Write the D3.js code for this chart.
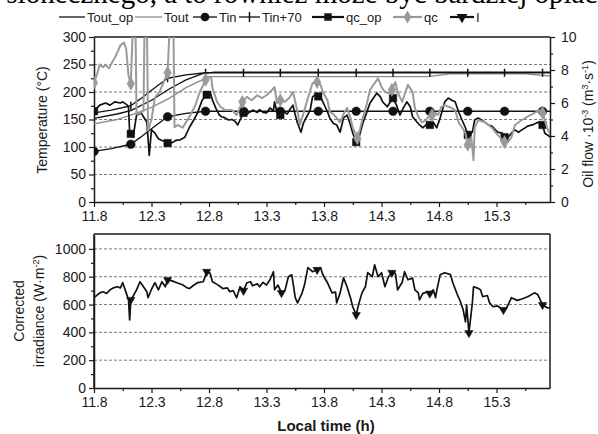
<!DOCTYPE html>
<html><head><meta charset="utf-8">
<script src="https://cdn.jsdelivr.net/npm/d3@7"></script>
<style>
html,body{margin:0;padding:0;background:#fff;}
svg{display:block;font-family:"Liberation Sans",Arial,sans-serif;}
</style></head>
<body><svg id="c" width="598" height="434"></svg>
<script>
// ---------- DATA ----------
const markerTimes = [11.8,12.12,12.44,12.77,13.1,13.42,13.75,14.08,14.4,14.72,15.05,15.37,15.7];
const xTicks = [11.8,12.3,12.8,13.3,13.8,14.3,14.8,15.3];
const xMinorTicks = [12.05,12.55,13.05,13.55,14.05,14.55,15.05,15.55];
const tempTicks = [0,50,100,150,200,250,300];
const flowTicks = [0,2,4,6,8,10];
const irrTicks = [0,200,400,600,800,1000];

const toutOp = [[11.8,152],[12.0,160],[12.12,166],[12.3,185],[12.45,205],[12.6,222],[12.75,234],[12.85,236],[15.77,236]];
const tout = [[11.8,142],[12.0,150],[12.12,158],[12.3,172],[12.45,188],[12.6,208],[12.8,228],[14.7,228],[14.9,233],[15.55,233],[15.77,229]];
const tin = [[11.8,92],[11.95,97],[12.12,105],[12.2,117],[12.3,133],[12.44,155],[12.6,161],[12.77,165],[13.1,165],[13.42,165],[13.75,165],[14.08,165],[14.4,165],[14.72,165],[15.05,165],[15.37,165],[15.7,165],[15.77,165]];
const tinPlus70 = [[11.8,162],[11.95,167],[12.12,175],[12.2,187],[12.3,203],[12.44,225],[12.6,231],[12.77,235],[13.1,235],[13.42,235],[13.75,235],[14.08,235],[14.4,235],[14.72,235],[15.05,235],[15.37,235],[15.7,235],[15.77,235]];

// oil flow, 10^-3 m3/s
const qcOp = [[11.80,5.5],[11.85,5.87],[11.90,6.0],[11.94,5.87],[11.98,6.07],[12.03,6.0],[12.05,6.07],[12.09,5.87],[12.10,5.73],[12.11,4.23],[12.12,4.13],[12.14,3.93],[12.17,5.27],[12.21,5.4],[12.23,5.17],[12.26,4.83],[12.28,2.83],[12.30,4.37],[12.33,4.17],[12.36,3.83],[12.39,3.73],[12.42,3.67],[12.44,3.57],[12.48,3.6],[12.51,3.73],[12.55,3.77],[12.59,3.93],[12.63,4.53],[12.67,5.0],[12.70,5.4],[12.74,6.17],[12.78,6.5],[12.81,6.67],[12.83,6.17],[12.86,5.67],[12.89,5.27],[12.91,5.17],[12.94,5.1],[12.97,4.97],[13.00,5.0],[13.03,4.87],[13.05,4.67],[13.07,4.97],[13.10,5.4],[13.13,5.33],[13.16,5.47],[13.18,5.57],[13.22,5.43],[13.24,5.6],[13.27,5.43],[13.30,5.4],[13.33,5.7],[13.36,5.53],[13.37,6.07],[13.39,5.47],[13.42,5.27],[13.44,5.5],[13.48,5.33],[13.50,5.57],[13.53,5.87],[13.55,5.27],[13.57,4.77],[13.60,4.23],[13.62,4.77],[13.65,5.17],[13.68,5.57],[13.70,6.37],[13.72,6.47],[13.75,6.4],[13.77,6.37],[13.79,6.07],[13.83,5.47],[13.85,5.1],[13.88,4.77],[13.91,4.67],[13.94,4.23],[13.97,5.1],[14.00,5.27],[14.03,4.67],[14.05,4.17],[14.08,3.63],[14.11,4.07],[14.14,4.83],[14.17,5.4],[14.20,6.0],[14.23,6.3],[14.26,6.6],[14.29,6.37],[14.31,6.07],[14.35,5.77],[14.37,6.0],[14.40,6.3],[14.43,5.87],[14.46,5.27],[14.49,5.7],[14.52,6.07],[14.55,5.77],[14.57,5.17],[14.61,4.83],[14.63,4.67],[14.66,4.5],[14.70,4.77],[14.72,4.67],[14.75,4.83],[14.78,4.5],[14.81,5.1],[14.83,5.57],[14.85,6.07],[14.88,6.3],[14.91,6.17],[14.94,6.07],[14.97,5.47],[15.00,4.97],[15.03,4.5],[15.05,4.07],[15.09,4.23],[15.11,4.97],[15.14,5.1],[15.17,4.97],[15.20,4.83],[15.23,4.67],[15.26,4.6],[15.29,4.37],[15.31,4.23],[15.35,4.17],[15.37,3.93],[15.40,3.93],[15.43,4.17],[15.46,4.37],[15.49,4.23],[15.52,4.37],[15.55,4.5],[15.57,4.6],[15.61,4.67],[15.63,4.73],[15.66,4.83],[15.70,4.67],[15.72,4.17],[15.77,3.93]];

const qc = [[11.80,7.23],[11.83,7.83],[11.85,8.33],[11.88,8.17],[11.90,8.33],[11.93,8.1],[11.96,8.5],[11.98,8.73],[12.01,9.17],[12.03,9.5],[12.06,9.67],[12.08,9.27],[12.10,7.67],[12.12,7.17],[12.14,11],[12.16,11],[12.17,5.33],[12.23,5.5],[12.24,11],[12.26,11],[12.27,4.33],[12.30,5.0],[12.33,6.33],[12.37,6.67],[12.42,7.5],[12.44,7.83],[12.46,11],[12.49,11],[12.50,4.53],[12.53,4.67],[12.57,4.5],[12.60,4.83],[12.63,5.17],[12.68,5.83],[12.72,6.67],[12.77,7.4],[12.79,7.6],[12.82,7.5],[12.83,6.9],[12.87,6.07],[12.90,5.77],[12.94,5.57],[13.00,5.57],[13.04,5.27],[13.09,6.07],[13.13,6.37],[13.17,6.17],[13.22,6.47],[13.26,6.3],[13.30,6.47],[13.35,6.8],[13.37,6.97],[13.39,6.0],[13.42,6.17],[13.46,6.07],[13.50,6.33],[13.53,6.67],[13.57,5.47],[13.59,4.67],[13.62,5.33],[13.66,6.3],[13.70,7.2],[13.74,7.27],[13.77,7.1],[13.79,6.67],[13.83,6.17],[13.85,5.47],[13.88,5.33],[13.91,5.1],[13.94,4.83],[13.97,5.33],[14.00,5.7],[14.03,5.1],[14.05,4.5],[14.09,3.87],[14.11,4.33],[14.14,5.17],[14.17,5.87],[14.20,6.8],[14.23,7.1],[14.27,7.5],[14.30,6.97],[14.33,6.67],[14.36,6.6],[14.39,6.8],[14.42,7.27],[14.44,6.67],[14.48,6.07],[14.50,6.5],[14.53,7.1],[14.57,6.67],[14.59,5.7],[14.62,5.17],[14.65,4.83],[14.68,4.93],[14.70,5.1],[14.74,5.27],[14.77,5.4],[14.79,5.27],[14.82,5.77],[14.85,5.87],[14.90,5.73],[14.94,5.57],[14.97,4.83],[15.00,4.53],[15.03,4.17],[15.05,3.47],[15.08,3.93],[15.10,2.53],[15.11,4.5],[15.14,4.97],[15.20,4.83],[15.26,4.5],[15.31,4.07],[15.37,3.63],[15.40,3.63],[15.43,3.93],[15.46,4.67],[15.52,4.97],[15.57,5.17],[15.63,5.4],[15.68,5.57],[15.70,5.4],[15.74,4.5],[15.77,4.07]];

// corrected irradiance, W/m2
const irr = [[11.80,650],[11.83,670],[11.85,684],[11.88,692],[11.91,680],[11.94,706],[11.97,720],[12.00,728],[12.03,720],[12.05,757],[12.08,684],[12.10,634],[12.11,490],[12.12,634],[12.14,660],[12.17,706],[12.20,764],[12.23,728],[12.26,692],[12.27,649],[12.30,710],[12.33,757],[12.36,706],[12.39,764],[12.42,728],[12.44,778],[12.48,770],[12.52,757],[12.57,742],[12.61,720],[12.63,715],[12.66,735],[12.70,757],[12.75,764],[12.78,836],[12.81,825],[12.83,764],[12.87,745],[12.90,728],[12.92,715],[12.96,720],[12.98,692],[13.01,700],[13.04,649],[13.07,728],[13.10,700],[13.13,757],[13.16,764],[13.18,735],[13.22,750],[13.24,728],[13.27,760],[13.30,740],[13.33,778],[13.36,836],[13.37,706],[13.40,740],[13.43,684],[13.46,700],[13.49,800],[13.52,814],[13.55,649],[13.57,612],[13.61,684],[13.63,740],[13.66,865],[13.70,836],[13.74,850],[13.77,865],[13.79,814],[13.83,757],[13.87,684],[13.90,690],[13.91,612],[13.94,684],[13.97,793],[14.00,728],[14.03,649],[14.05,584],[14.08,526],[14.10,598],[14.13,684],[14.16,728],[14.18,829],[14.22,800],[14.24,886],[14.27,800],[14.30,829],[14.33,728],[14.36,800],[14.39,829],[14.42,825],[14.44,706],[14.48,760],[14.50,836],[14.53,778],[14.57,790],[14.59,706],[14.62,684],[14.63,634],[14.66,680],[14.70,690],[14.72,680],[14.75,706],[14.77,649],[14.78,700],[14.81,814],[14.85,829],[14.90,815],[14.92,757],[14.96,670],[14.98,634],[15.01,562],[15.03,476],[15.04,598],[15.06,396],[15.09,612],[15.10,728],[15.13,720],[15.16,706],[15.18,656],[15.22,665],[15.24,612],[15.27,584],[15.31,590],[15.36,562],[15.39,580],[15.43,649],[15.48,630],[15.52,640],[15.57,656],[15.59,665],[15.63,684],[15.66,670],[15.70,598],[15.74,577],[15.77,575]];

// ---------- CHART ----------
const svg = d3.select("#c");
const FONT = "'Liberation Sans', Arial, sans-serif";
const INK = "#1a1a1a";

// clipped page text above the figure
svg.append("text").attr("x",-9).attr("y",3)
  .attr("font-family","'Liberation Serif','Times New Roman',serif").attr("font-size",29).attr("fill","#000")
  .text("i słonecznego, a to również może być bardziej opłac");

const x = d3.scaleLinear().domain([11.8, 15.765]).range([94, 550]);
const yT = d3.scaleLinear().domain([0,300]).range([202,37]);
const yF = d3.scaleLinear().domain([0,10]).range([202,37]);
const yI = d3.scaleLinear().domain([0,1100]).range([388,235]);

const defs = svg.append("defs");
defs.append("clipPath").attr("id","clipTop").append("rect").attr("x",94).attr("y",37).attr("width",456).attr("height",165);
defs.append("clipPath").attr("id","clipBot").append("rect").attr("x",94).attr("y",234).attr("width",456).attr("height",154);

function grid(yScale, vals){
  svg.append("g").selectAll("line").data(vals).join("line")
    .attr("x1",x.range()[0]).attr("x2",x.range()[1])
    .attr("y1",d=>yScale(d)).attr("y2",d=>yScale(d))
    .attr("stroke","#7a7a7a").attr("stroke-width",1).attr("stroke-dasharray","3,2");
}
grid(yT,[50,100,150,200,250]);
grid(yI,[200,400,600,800,1000]);

function styleAxis(g, fs){
  g.selectAll("path").attr("stroke",INK).attr("stroke-width",1.5);
  g.selectAll("line").attr("stroke",INK).attr("stroke-width",1.2);
  g.selectAll("text").attr("font-family",FONT).attr("font-size",fs||14).attr("fill",INK);
}
function minor(axisFn, scale, vals, transform){
  const g = svg.append("g").attr("transform",transform)
    .call(axisFn(scale).tickValues(vals).tickSize(3).tickSizeOuter(0).tickFormat(""));
  g.select("path").remove();
  g.selectAll("line").attr("stroke",INK).attr("stroke-width",1.2);
}
const fmtX = d3.format(".1f");
const fmtInt = d3.format("d");

let g;
g = svg.append("g").attr("transform","translate(0,202)").call(d3.axisBottom(x).tickValues(xTicks).tickFormat(fmtX).tickSize(5).tickSizeOuter(0).tickPadding(4));
styleAxis(g);
minor(d3.axisBottom, x, xMinorTicks, "translate(0,202)");
g = svg.append("g").attr("transform","translate(94,0)").call(d3.axisLeft(yT).tickValues(tempTicks).tickFormat(fmtInt).tickSize(5).tickSizeOuter(0).tickPadding(3));
styleAxis(g);
minor(d3.axisLeft, yT, [25,75,125,175,225,275], "translate(94,0)");
g = svg.append("g").attr("transform","translate(550,0)").call(d3.axisRight(yF).tickValues(flowTicks).tickFormat(fmtInt).tickSize(5).tickSizeOuter(0).tickPadding(6));
styleAxis(g);
minor(d3.axisRight, yF, [1,3,5,7,9], "translate(550,0)");
svg.append("line").attr("x1",94).attr("x2",550).attr("y1",37).attr("y2",37).attr("stroke",INK).attr("stroke-width",1.5);

g = svg.append("g").attr("transform","translate(0,388)").call(d3.axisBottom(x).tickValues(xTicks).tickFormat(fmtX).tickSize(5).tickSizeOuter(0).tickPadding(4));
styleAxis(g);
minor(d3.axisBottom, x, xMinorTicks, "translate(0,388)");
g = svg.append("g").attr("transform","translate(94,0)").call(d3.axisLeft(yI).tickValues(irrTicks).tickFormat(fmtInt).tickSize(5).tickSizeOuter(0).tickPadding(3));
styleAxis(g);
minor(d3.axisLeft, yI, [100,300,500,700,900], "translate(94,0)");
svg.append("line").attr("x1",94).attr("x2",550).attr("y1",234).attr("y2",234).attr("stroke",INK).attr("stroke-width",1.5);
svg.append("line").attr("x1",550).attr("x2",550).attr("y1",234).attr("y2",388).attr("stroke",INK).attr("stroke-width",1.5);
svg.append("line").attr("x1",94).attr("x2",94).attr("y1",234).attr("y2",388).attr("stroke",INK).attr("stroke-width",1.5);

svg.append("text").attr("transform","translate(47,120) rotate(-90)").attr("text-anchor","middle")
  .attr("font-family",FONT).attr("font-size",14).attr("fill",INK).text("Temperature (°C)");
const rt = svg.append("text").attr("transform","translate(593,124) rotate(-90)").attr("text-anchor","middle")
  .attr("font-family",FONT).attr("font-size",14).attr("fill",INK);
rt.append("tspan").text("Oil flow ·10");
rt.append("tspan").attr("dy",-5).attr("font-size",9).text("-3");
rt.append("tspan").attr("dy",5).text(" (m");
rt.append("tspan").attr("dy",-5).attr("font-size",9).text("3");
rt.append("tspan").attr("dy",5).text("·s");
rt.append("tspan").attr("dy",-5).attr("font-size",9).text("-1");
rt.append("tspan").attr("dy",5).text(")");

svg.append("text").attr("transform","translate(24,311) rotate(-90)").attr("text-anchor","middle")
  .attr("font-family",FONT).attr("font-size",14).attr("fill",INK).text("Corrected");
const itx = svg.append("text").attr("transform","translate(44,311) rotate(-90)").attr("text-anchor","middle")
  .attr("font-family",FONT).attr("font-size",14).attr("fill",INK);
itx.append("tspan").text("irradiance (W·m");
itx.append("tspan").attr("dy",-5).attr("font-size",9).text("-2");
itx.append("tspan").attr("dy",5).text(")");

svg.append("text").attr("x",326).attr("y",431).attr("text-anchor","middle")
  .attr("font-family",FONT).attr("font-size",15).attr("font-weight","bold").attr("fill",INK).text("Local time (h)");

const topLayer = svg.append("g").attr("clip-path","url(#clipTop)");
const botLayer = svg.append("g").attr("clip-path","url(#clipBot)");
const lineT = d3.line().x(d=>x(d[0])).y(d=>yT(d[1]));
const lineF = d3.line().x(d=>x(d[0])).y(d=>yF(d[1]));
const lineI = d3.line().x(d=>x(d[0])).y(d=>yI(d[1]));

function nearest(data, t){
  let best=data[0], bd=Infinity;
  for(const d of data){ const dd=Math.abs(d[0]-t); if(dd<bd){bd=dd;best=d;} }
  return best;
}
function markersOf(data, times){ return times.map(t=>nearest(data,t)); }

const sym = {
  circle: d3.symbol().type(d3.symbolCircle).size(60),
  square: d3.symbol().type(d3.symbolSquare).size(56),
  diamond: d3.symbol().type(d3.symbolDiamond).size(50),
  tri: d3.symbol().type(d3.symbolTriangle).size(30)
};

function drawSeries(layer, data, lineFn, yS, color, width, symKind, times, rot){
  layer.append("path").datum(data).attr("d",lineFn).attr("fill","none")
    .attr("stroke",color).attr("stroke-width",width).attr("stroke-linejoin","round");
  if(!symKind) return;
  layer.append("g").selectAll("path").data(markersOf(data,times)).join("path")
    .attr("transform",d=>`translate(${x(d[0])},${yS(d[1])})${rot?" rotate(180)":""}`)
    .attr("d", symKind==="plus" ? "M0,-4V4" : sym[symKind]())
    .attr("fill", symKind==="plus" ? "none" : color)
    .attr("stroke", color).attr("stroke-width", symKind==="plus"?1.5:0.5);
}

drawSeries(topLayer, toutOp, lineT, yT, "#111", 1.3, null);
drawSeries(topLayer, tout, lineT, yT, "#8a8a8a", 1.3, null);
drawSeries(topLayer, tin, lineT, yT, "#111", 1.3, "circle", markerTimes);
drawSeries(topLayer, tinPlus70, lineT, yT, "#111", 1.3, "plus", markerTimes);
drawSeries(topLayer, qcOp, lineF, yF, "#111", 1.7, "square", markerTimes);
drawSeries(topLayer, qc, lineF, yF, "#9a9a9a", 2.0, "diamond", markerTimes);
drawSeries(botLayer, irr, lineI, yI, "#111", 1.7, "tri", markerTimes.slice(1), true);

const legend = [
  {label:"Tout_op", color:"#111", w:1.3, sym:null, x1:59, x2:85},
  {label:"Tout", color:"#8a8a8a", w:1.3, sym:null, x1:135, x2:162},
  {label:"Tin", color:"#111", w:1.3, sym:"circle", x1:193, x2:217},
  {label:"Tin+70", color:"#111", w:1.3, sym:"cross", x1:239, x2:260},
  {label:"qc_op", color:"#111", w:2.2, sym:"square", x1:312, x2:344},
  {label:"qc", color:"#9a9a9a", w:2.2, sym:"diamond", x1:393, x2:422},
  {label:"I", color:"#111", w:2.2, sym:"tri", x1:450, x2:474}
];
const LY = 17;
const lg = svg.append("g");
legend.forEach(it=>{
  lg.append("line").attr("x1",it.x1).attr("x2",it.x2).attr("y1",LY).attr("y2",LY)
    .attr("stroke",it.color).attr("stroke-width",it.w);
  if(it.sym){
    const cx=(it.x1+it.x2)/2;
    if(it.sym==="cross"){
      lg.append("line").attr("x1",cx).attr("x2",cx).attr("y1",LY-5).attr("y2",LY+5).attr("stroke",it.color).attr("stroke-width",1.5);
    } else {
      lg.append("path").attr("transform",`translate(${cx},${LY})${it.sym==="tri"?" rotate(180)":""}`)
        .attr("d",(it.sym==="tri"?d3.symbol().type(d3.symbolTriangle).size(50):sym[it.sym])()).attr("fill",it.color);
    }
  }
  lg.append("text").attr("x",it.x2+2).attr("y",LY+4.5).attr("font-family",FONT).attr("font-size",13)
    .attr("fill",INK).text(it.label);
});
</script></body></html>
